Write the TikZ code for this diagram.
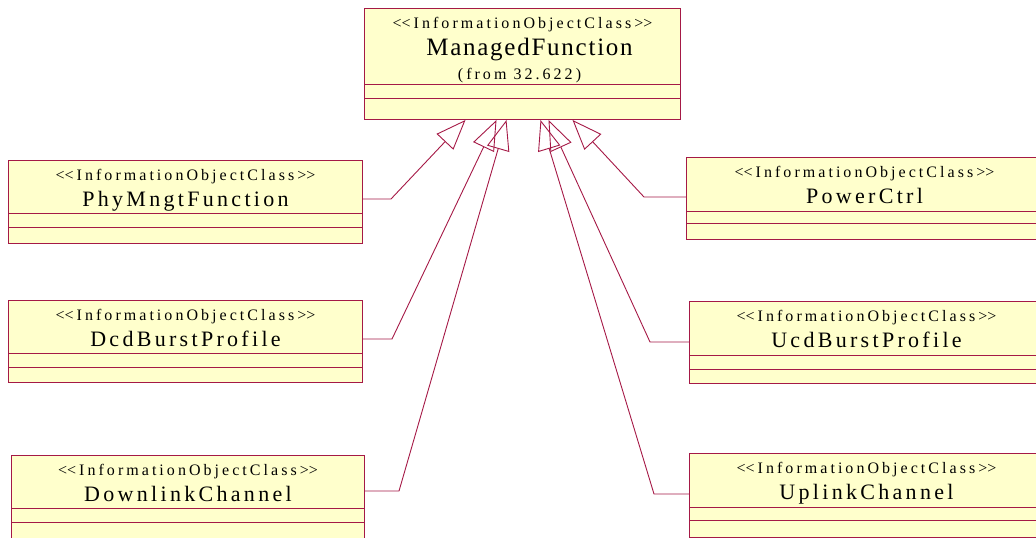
\documentclass[tikz,border=0pt]{standalone}
\usepackage{fontspec}
\setmainfont{Liberation Serif}
\newfontfamily\stfont{Liberation Serif}[LetterSpace=19]
\newfontfamily\nmfont{Liberation Serif}[LetterSpace=15]
\newfontfamily\topfont{Liberation Serif}[LetterSpace=7]
\usetikzlibrary{arrows.meta,calc}
\definecolor{umlline}{RGB}{165,25,70}
\definecolor{umlfill}{RGB}{255,255,204}

% one class box: name, x, y, width, height, first and second compartment line, class name
\newcommand\umlclass[8]{%
  \node[classbox, minimum width=#4pt, minimum height=#5pt] (#1) at (#2,#3) {};
  \draw[compart] ($(#1.north west)+(0,#6)$) -- ($(#1.north east)+(0,#6)$);
  \draw[compart] ($(#1.north west)+(0,#7)$) -- ($(#1.north east)+(0,#7)$);
  \node[stereo] (#1-st) at ($(#1.north)+(0,20)$) {<\kern0pt<InformationObjectClass>\kern0pt>};
  \node[cname] (#1-nm) at ($(#1.north)+(0,46)$) {#8};
}

\begin{document}
\begin{tikzpicture}[x=1pt,y=-1pt,
  classbox/.style={draw=umlline, fill=umlfill, line width=1pt, rectangle, inner sep=0pt, anchor=north west},
  compart/.style={draw=umlline, line width=0.9pt},
  gen/.style={draw=umlline, line width=0.9pt, -{Triangle[open,length=30pt,width=23pt]}},
  stereo/.style={anchor=base, inner sep=0pt, font=\stfont\fontsize{16}{16}\selectfont},
  cname/.style={anchor=base, inner sep=0pt, font=\nmfont\fontsize{22}{22}\selectfont}]
\useasboundingbox (0,0) rectangle (1036,538);
\begin{scope}
\clip (0,0) rectangle (1036,538);

% superclass
\node[classbox, minimum width=316pt, minimum height=111pt] (mf) at (364,8) {};
\draw[compart] ($(mf.north west)+(0,76)$) -- ($(mf.north east)+(0,76)$);
\draw[compart] ($(mf.north west)+(0,90)$) -- ($(mf.north east)+(0,90)$);
\node[stereo] (mf-st) at ($(mf.north)+(0,20)$) {<\kern0pt<InformationObjectClass>\kern0pt>};
\node[anchor=base, inner sep=0pt, font=\topfont\fontsize{25}{25}\selectfont] (mf-nm) at ($(mf.north)+(7,47)$) {ManagedFunction};
\node[stereo] (mf-fr) at ($(mf.north)+(-3,71)$) {(from 32.622)};

% subclasses, left column
\umlclass{phy}{8}{160}{354}{83}{53}{67}{PhyMngtFunction}
\umlclass{dcd}{8}{300}{354}{82}{53}{67}{DcdBurstProfile}
\umlclass{dl}{11}{455}{353}{100}{53}{67}{DownlinkChannel}

% subclasses, right column
\umlclass{pc}{686}{157}{356}{82}{54}{66}{PowerCtrl}
\umlclass{ucd}{689}{301}{354}{82}{54}{68}{UcdBurstProfile}
\umlclass{ul}{689}{453}{354}{84}{54}{67}{UplinkChannel}

% arrow tips on the superclass and bend points of the connectors
\coordinate (t1) at ($(mf.south)+(-57,0)$);
\coordinate (t2) at ($(mf.south)+(-26,0)$);
\coordinate (t3) at ($(mf.south)+(-16,0)$);
\coordinate (t4) at ($(mf.south)+(18,0)$);
\coordinate (t5) at ($(mf.south)+(26,0)$);
\coordinate (t6) at ($(mf.south)+(50,0)$);
\coordinate (b1) at (391,199);
\coordinate (b2) at (392,339);
\coordinate (b3) at (399,491);
\coordinate (b4) at (654,494);
\coordinate (b5) at (650,342);
\coordinate (b6) at (644,197);

% generalisations
\draw[gen] (phy.east |- b1) -- (b1) -- (t1);
\draw[gen] (dcd.east |- b2) -- (b2) -- (t2);
\draw[gen] (dl.east |- b3) -- (b3) -- (t3);
\draw[gen] (ul.west |- b4) -- (b4) -- (t4);
\draw[gen] (ucd.west |- b5) -- (b5) -- (t5);
\draw[gen] (pc.west |- b6) -- (b6) -- (t6);
\end{scope}
\end{tikzpicture}
\end{document}
